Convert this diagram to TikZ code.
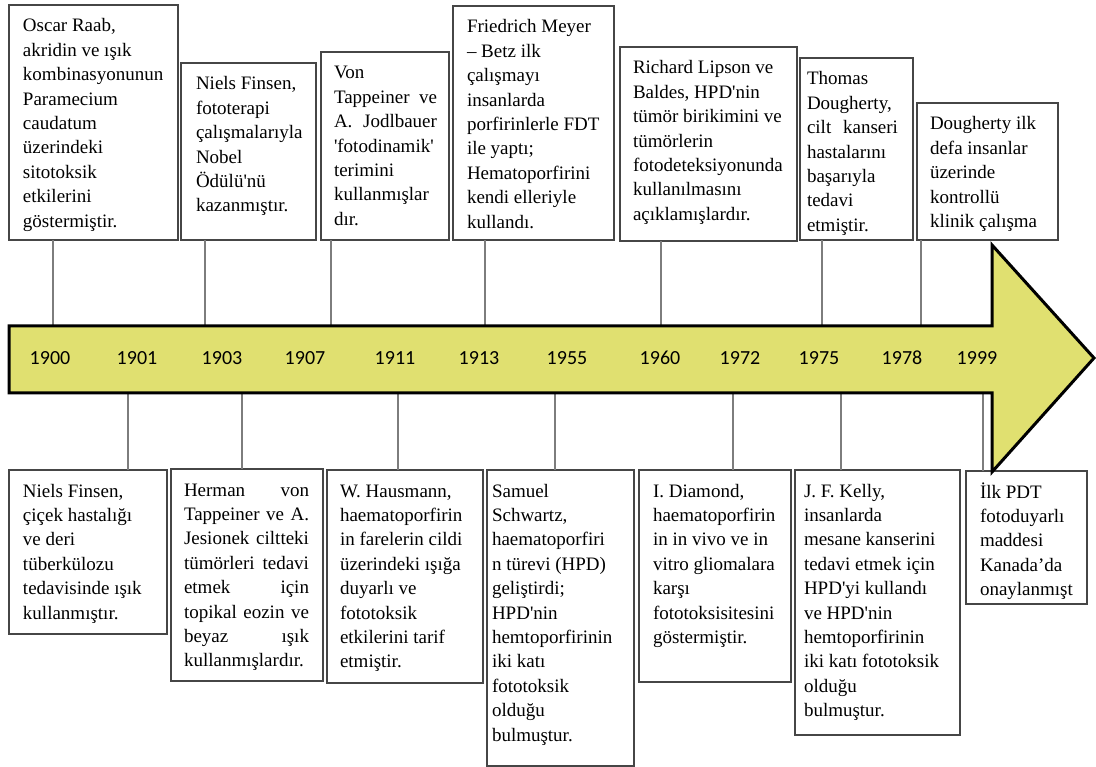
\documentclass[tikz,border=0pt]{standalone}
\usepackage{fontspec}
\setmainfont{Liberation Serif}
\newfontfamily\yearfont{Carlito}
\definecolor{arrowfill}{RGB}{224,224,112}
\definecolor{boxline}{RGB}{70,70,70}
\definecolor{connline}{RGB}{125,125,125}
\newcommand\bl[1]{\mbox{#1}\par}
\newcommand\jl[1]{\makebox[\linewidth][s]{#1}\par}
\newcommand\sq{\textquotesingle}
\tikzset{
  tbox/.style={draw=boxline, line width=1.2pt, fill=white, inner sep=0pt, outer sep=0pt,
    anchor=north west, font=\fontsize{19}{24.4}\selectfont},
  conn/.style={draw=connline, line width=1.4pt},
  yearlbl/.style={font=\yearfont\fontsize{20}{22}\selectfont, inner sep=0pt},
  tlarrow/.style={draw=black, line width=3pt, fill=arrowfill, line join=miter}
}
\newcommand\tlbox[8]{\node[tbox] (#1) at (#2,#3) {\makebox[\dimexpr #4pt-#2pt\relax][l]{\hspace*{#6pt}\parbox[b][\dimexpr #5pt-#3pt\relax][t]{#7pt}{\rule{0pt}{27pt}#8}}};}
\begin{document}
\begin{tikzpicture}[x=1pt,y=-1pt]
\useasboundingbox (0,0) rectangle (1096,767);
% anchor points on the arrow (top side)
\coordinate (a1) at (53,326);
\coordinate (a2) at (205,326);
\coordinate (a3) at (331,326);
\coordinate (a4) at (485,326);
\coordinate (a5) at (661,326);
\coordinate (a6) at (822,326);
\coordinate (a7) at (921,326);
% anchor points on the arrow (bottom side)
\coordinate (c1) at (128,393);
\coordinate (c2) at (242,393);
\coordinate (c3) at (398,393);
\coordinate (c4) at (555,393);
\coordinate (c5) at (733,393);
\coordinate (c6) at (841,393);
\coordinate (c7) at (983,393);

% top boxes
\tlbox{t1}{9}{5}{178}{240}{14}{150}{\bl{Oscar Raab,}\bl{akridin ve ışık}\bl{kombinasyonunun}\bl{Paramecium}\bl{caudatum}\bl{üzerindeki}\bl{sitotoksik}\bl{etkilerini}\bl{göstermiştir.}}
\tlbox{t2}{181}{63}{316}{240}{15}{115}{\bl{Niels Finsen,}\bl{fototerapi}\bl{çalışmalarıyla}\bl{Nobel}\bl{Ödülü\sq nü}\bl{kazanmıştır.}}
\tlbox{t3}{321}{52}{449}{240}{13}{103}{\bl{Von}\jl{Tappeiner ve}\jl{A. Jodlbauer}\bl{\sq fotodinamik\sq}\bl{terimini}\bl{kullanmışlar}\bl{dır.}}
\tlbox{t4}{453}{6}{614}{240}{14}{143}{\bl{Friedrich Meyer}\bl{– Betz ilk}\bl{çalışmayı}\bl{insanlarda}\bl{porfirinlerle FDT}\bl{ile yaptı;}\bl{Hematoporfirini}\bl{kendi elleriyle}\bl{kullandı.}}
\tlbox{t5}{620}{47}{797}{241}{13}{160}{\bl{Richard Lipson ve}\bl{Baldes, HPD\sq nin}\bl{tümör birikimini ve}\bl{tümörlerin}\bl{fotodeteksiyonunda}\bl{kullanılmasını}\bl{açıklamışlardır.}}
\tlbox{t6}{800}{58}{913}{240}{7}{91}{\bl{Thomas}\bl{Dougherty,}\jl{cilt kanseri}\bl{hastalarını}\bl{başarıyla}\bl{tedavi}\bl{etmiştir.}}
\tlbox{t7}{917}{103}{1058}{240}{13}{124}{\bl{Dougherty ilk}\bl{defa insanlar}\bl{üzerinde}\bl{kontrollü}\bl{klinik çalışma}}

% bottom boxes
\tlbox{b1}{9}{470}{167}{634}{14}{140}{\bl{Niels Finsen,}\bl{çiçek hastalığı}\bl{ve deri}\bl{tüberkülozu}\bl{tedavisinde ışık}\bl{kullanmıştır.}}
\tlbox{b2}{171}{469}{323}{681}{13}{125}{\jl{Herman von}\jl{Tappeiner ve A.}\jl{Jesionek ciltteki}\jl{tümörleri tedavi}\jl{etmek için}\jl{topikal eozin ve}\jl{beyaz ışık}\bl{kullanmışlardır.}}
\tlbox{b3}{327}{470}{483}{683}{13}{140}{\bl{W. Hausmann,}\bl{haematoporfirin}\bl{in farelerin cildi}\bl{üzerindeki ışığa}\bl{duyarlı ve}\bl{fototoksik}\bl{etkilerini tarif}\bl{etmiştir.}}
\tlbox{b4}{487}{470}{634}{766}{5}{140}{\bl{Samuel}\bl{Schwartz,}\bl{haematoporfiri}\bl{n türevi (HPD)}\bl{geliştirdi;}\bl{HPD\sq nin}\bl{hemtoporfirinin}\bl{iki katı}\bl{fototoksik}\bl{olduğu}\bl{bulmuştur.}}
\tlbox{b5}{639}{470}{791}{682}{14}{135}{\bl{I. Diamond,}\bl{haematoporfirin}\bl{in in vivo ve in}\bl{vitro gliomalara}\bl{karşı}\bl{fototoksisitesini}\bl{göstermiştir.}}
\tlbox{b6}{795}{470}{960}{735}{9}{152}{\bl{J. F. Kelly,}\bl{insanlarda}\bl{mesane kanserini}\bl{tedavi etmek için}\bl{HPD\sq yi kullandı}\bl{ve HPD\sq nin}\bl{hemtoporfirinin}\bl{iki katı fototoksik}\bl{olduğu}\bl{bulmuştur.}}
\tlbox{b7}{966}{471}{1087}{604}{14}{105}{\bl{İlk PDT}\bl{fotoduyarlı}\bl{maddesi}\bl{Kanada’da}\bl{onaylanmışt}}

% connectors
\foreach \i in {1,...,7}{
  \draw[conn] (t\i.south -| a\i) -- (a\i);
  \draw[conn] (c\i) -- (c\i |- b\i.north);
}

% timeline arrow
\draw[tlarrow] (9,326) -- (992,326) -- (992,245) -- (1094,358) -- (992,472) -- (992,393) -- (9,393) -- cycle;

% year labels
\node[yearlbl] (y1900) at (50,358) {1900};
\node[yearlbl] (y1901) at (137,358) {1901};
\node[yearlbl] (y1903) at (222,358) {1903};
\node[yearlbl] (y1907) at (305,358) {1907};
\node[yearlbl] (y1911) at (395,358) {1911};
\node[yearlbl] (y1913) at (479,358) {1913};
\node[yearlbl] (y1955) at (567,358) {1955};
\node[yearlbl] (y1960) at (660,358) {1960};
\node[yearlbl] (y1972) at (740,358) {1972};
\node[yearlbl] (y1975) at (819,358) {1975};
\node[yearlbl] (y1978) at (902,358) {1978};
\node[yearlbl] (y1999) at (977,358) {1999};
\end{tikzpicture}
\end{document}
